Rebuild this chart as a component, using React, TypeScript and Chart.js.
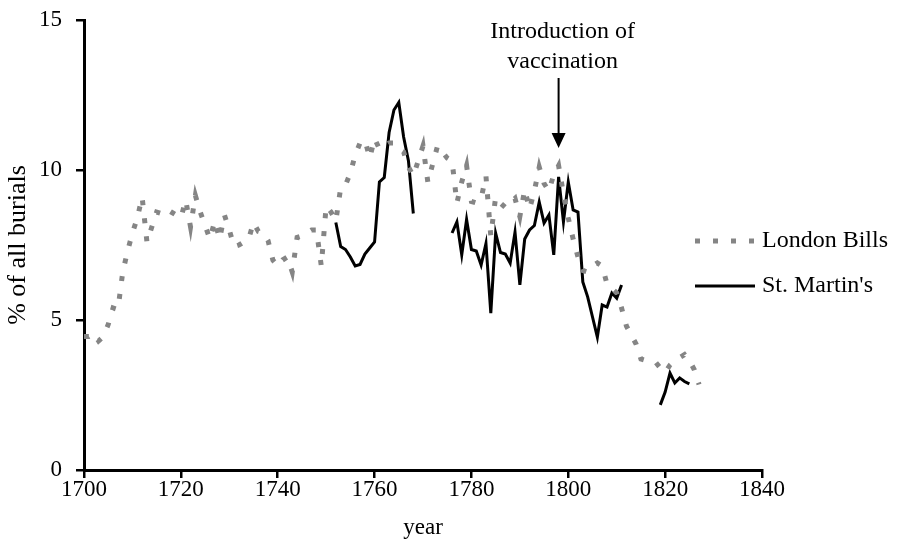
import React, { useEffect, useRef } from "react";
import { Chart, registerables } from "chart.js";

Chart.register(...registerables);

// ---------- data ----------
const billsYears: number[] = [
  1700, 1701, 1702, 1703, 1704, 1705, 1706, 1707, 1708, 1709,
  1710, 1711, 1712, 1713, 1714, 1715, 1716, 1717, 1718, 1719,
  1720, 1721, 1722, 1723, 1724, 1725, 1726, 1727, 1728, 1729,
  1730, 1731, 1732, 1733, 1734, 1735, 1736, 1737, 1738, 1739,
  1740, 1741, 1742, 1743, 1744, 1745, 1746, 1747, 1748, 1749,
  1750, 1751, 1752, 1753, 1754, 1755, 1756, 1757, 1758, 1759,
  1760, 1761, 1762, 1763, 1764, 1765, 1766, 1767, 1768, 1769,
  1770, 1771, 1772, 1773, 1774, 1775, 1776, 1777, 1778, 1779,
  1780, 1781, 1782, 1783, 1784, 1785, 1786, 1787, 1788, 1789,
  1790, 1791, 1792, 1793, 1794, 1795, 1796, 1797, 1798, 1799,
  1800, 1801, 1802, 1803, 1804, 1805, 1806, 1807, 1808, 1809,
  1810, 1811, 1812, 1813, 1814, 1815, 1816, 1817, 1818, 1819,
  1820, 1821, 1822, 1823, 1824, 1825, 1826, 1827,
];
const billsValues: number[] = [
  4.45, 4.45, 4.55, 4.3, 4.45, 4.85, 5.4, 5.35, 6.6, 7.3,
  7.9, 8.4, 9.1, 7.6, 8.1, 8.6, 8.55, 8.7, 8.6, 8.5,
  8.4, 9.0, 8.1, 9.15, 8.6, 8.15, 7.7, 8.3, 7.7, 8.5,
  8.0, 7.45, 7.5, 7.6, 7.7, 8.25, 7.95, 7.9, 7.65, 7.0,
  6.8, 7.0, 7.1, 6.6, 7.75, 7.8, 7.9, 8.0, 8.0, 6.8,
  8.8, 8.6, 8.3, 9.4, 9.5, 9.9, 10.5, 10.9, 11.0, 10.4,
  11.05, 10.7, 10.8, 10.9, 10.9, 10.7, 10.6, 10.1, 9.8, 10.3,
  10.8, 9.6, 10.2, 10.8, 10.6, 10.4, 10.3, 8.9, 9.6, 10.15,
  8.95, 8.9, 9.05, 9.8, 7.8, 9.1, 8.9, 8.75, 8.9, 9.05,
  8.45, 9.35, 8.7, 9.3, 10.1, 9.55, 9.3, 9.85, 10.15, 9.2,
  8.4, 7.7, 7.1, 6.65, 6.6, 6.8, 6.9, 6.8, 6.2, 6.05,
  5.9, 5.4, 4.8, 4.5, 4.2, 3.7, 3.65, 3.65, 3.6, 3.4,
  3.25, 3.5, 3.65, 3.75, 3.85, 3.65, 3.35, 2.85,
];

const martinYears: number[] = [
  1752, 1753, 1754, 1755, 1756, 1757, 1758, 1759, 1760, 1761,
  1762, 1763, 1764, 1765, 1766, 1767, 1768, 1769, 1770, 1771,
  1772, 1773, 1774, 1775, 1776, 1777, 1778, 1779, 1780, 1781,
  1782, 1783, 1784, 1785, 1786, 1787, 1788, 1789, 1790, 1791,
  1792, 1793, 1794, 1795, 1796, 1797, 1798, 1799, 1800, 1801,
  1802, 1803, 1804, 1805, 1806, 1807, 1808, 1809, 1810, 1811,
  1812, 1813, 1814, 1815, 1816, 1817, 1818, 1819, 1820, 1821,
  1822, 1823, 1824, 1825,
];
const martinValues: (number | null)[] = [
  8.25, 7.45, 7.35, 7.1, 6.8, 6.85, 7.2, 7.4, 7.6, 9.6,
  9.75, 11.25, 12.0, 12.25, 11.1, 10.3, 8.55, null, null, null,
  null, null, null, null, 7.9, 8.27, 7.17, 8.35, 7.35, 7.3,
  6.83, 7.55, 5.23, 7.9, 7.25, 7.2, 6.9, 7.93, 6.17, 7.7,
  8.0, 8.15, 8.93, 8.23, 8.5, 7.17, 9.77, 8.27, 9.6, 8.67,
  8.6, 6.27, 5.77, 5.1, 4.43, 5.5, 5.43, 5.9, 5.73, 6.17,
  null, null, null, null, null, null, null, 2.17, 2.6, 3.23,
  2.9, 3.07, 2.95, 2.87,
];

const xTickValues: number[] = [1700, 1720, 1740, 1760, 1780, 1800, 1820, 1840];
const yTickValues: number[] = [0, 5, 10, 15];
const seriesNames: string[] = ["London Bills", "St. Martin's"];
const annotationYear = 1798;
const annotationLines: string[] = ["Introduction of", "vaccination"];
const xTitle = "year";
const yTitle = "% of all burials";

// ---------- styles ----------
const FONT = '"Liberation Serif", "Times New Roman", serif';
const FS = 23;
const FS_LABEL = 24;
const FS_YTITLE = 26;
const BILLS_COLOR = "#858585";
const BILLS_DASH = [5, 13];

const overlayPlugin = {
  id: "overlay",
  afterDraw(chart: any) {
    const ctx = chart.ctx as CanvasRenderingContext2D;
    const ax = chart.scales.x.getPixelForValue(annotationYear);
    ctx.save();
    ctx.fillStyle = "#000";
    ctx.font = `${FS_LABEL}px ${FONT}`;
    ctx.textAlign = "center";
    ctx.textBaseline = "middle";
    ctx.fillText(annotationLines[0], ax + 4, 32);
    ctx.fillText(annotationLines[1], ax + 4, 62);
    // arrow
    ctx.strokeStyle = "#000";
    ctx.lineWidth = 2;
    ctx.beginPath();
    ctx.moveTo(ax, 78);
    ctx.lineTo(ax, 136);
    ctx.stroke();
    ctx.beginPath();
    ctx.moveTo(ax - 7, 133);
    ctx.lineTo(ax + 7, 133);
    ctx.lineTo(ax, 148);
    ctx.closePath();
    ctx.fill();

    // legend
    const lx0 = 695;
    const lx1 = 757;
    const ly1 = 241;
    const ly2 = 286;
    ctx.lineCap = "butt";
    ctx.strokeStyle = BILLS_COLOR;
    ctx.lineWidth = 5;
    ctx.setLineDash(BILLS_DASH);
    ctx.beginPath();
    ctx.moveTo(lx0, ly1);
    ctx.lineTo(lx1, ly1);
    ctx.stroke();
    ctx.setLineDash([]);
    ctx.strokeStyle = "#000";
    ctx.lineWidth = 3;
    ctx.beginPath();
    ctx.moveTo(lx0, ly2);
    ctx.lineTo(lx1 - 2, ly2);
    ctx.stroke();
    ctx.textAlign = "left";
    ctx.fillText(seriesNames[0], 762, ly1);
    ctx.fillText(seriesNames[1], 762, ly2);
    ctx.restore();
  },
};

export default function App() {
  const ref = useRef<HTMLCanvasElement | null>(null);

  useEffect(() => {
    if (!ref.current) return;
    const bills = billsYears.map((x, i) => ({ x, y: billsValues[i] }));
    const martin = martinYears.map((x, i) => ({ x, y: martinValues[i] }));
    const tickFont = { family: FONT, size: FS };
    const chart = new Chart(ref.current, {
      type: "line",
      data: {
        datasets: [
          {
            label: seriesNames[0],
            data: bills,
            borderColor: BILLS_COLOR,
            borderWidth: 5,
            borderDash: BILLS_DASH,
            borderCapStyle: "butt",
            pointRadius: 0,
            tension: 0,
            fill: false,
          },
          {
            label: seriesNames[1],
            data: martin as any,
            borderColor: "#000",
            borderWidth: 3,
            pointRadius: 0,
            tension: 0,
            spanGaps: false,
            fill: false,
          },
        ],
      },
      options: {
        animation: false,
        responsive: false,
        maintainAspectRatio: false,
        devicePixelRatio: 1,
        layout: { padding: { top: 20, right: 143, left: 0, bottom: 0 } },
        plugins: { legend: { display: false }, tooltip: { enabled: false } },
        scales: {
          x: {
            type: "linear",
            min: 1700,
            max: 1840,
            afterBuildTicks: (s: any) => {
              s.ticks = xTickValues.map((v) => ({ value: v }));
            },
            afterFit: (s: any) => {
              s.height = 84;
              s.paddingLeft = 0;
              s.paddingRight = 0;
              s.paddingTop = 0;
              s.paddingBottom = 0;
            },
            ticks: {
              color: "#000",
              font: tickFont,
              padding: -2,
              maxRotation: 0,
              autoSkip: false,
              callback: (v: any) => String(v),
            },
            grid: {
              drawOnChartArea: false,
              drawTicks: true,
              tickLength: 8,
              color: "#000",
              lineWidth: 2.5,
            },
            border: { display: true, color: "#000", width: 3 },
            title: {
              display: true,
              text: xTitle,
              color: "#000",
              font: tickFont,
              padding: { top: 0, bottom: 12 },
            },
          },
          y: {
            type: "linear",
            min: 0,
            max: 15,
            afterBuildTicks: (s: any) => {
              s.ticks = yTickValues.map((v) => ({ value: v }));
            },
            afterFit: (s: any) => {
              s.width = 84;
              s.paddingLeft = 0;
              s.paddingRight = 0;
              s.paddingTop = 0;
              s.paddingBottom = 0;
            },
            ticks: {
              color: "#000",
              font: tickFont,
              padding: 14,
              callback: (v: any) => String(v),
            },
            grid: {
              drawOnChartArea: false,
              drawTicks: true,
              tickLength: 8,
              color: "#000",
              lineWidth: 2.5,
            },
            border: { display: true, color: "#000", width: 3 },
            title: {
              display: true,
              text: yTitle,
              color: "#000",
              font: { family: FONT, size: FS_YTITLE },
              padding: { top: 3, bottom: 4 },
            },
          },
        },
      },
      plugins: [overlayPlugin],
    });
    return () => chart.destroy();
  }, []);

  return (
    <div style={{ position: "fixed", left: 0, top: 0, width: 905, height: 554, background: "#fff" }}>
      <canvas ref={ref} width={905} height={554} style={{ width: 905, height: 554, display: "block" }} />
    </div>
  );
}
